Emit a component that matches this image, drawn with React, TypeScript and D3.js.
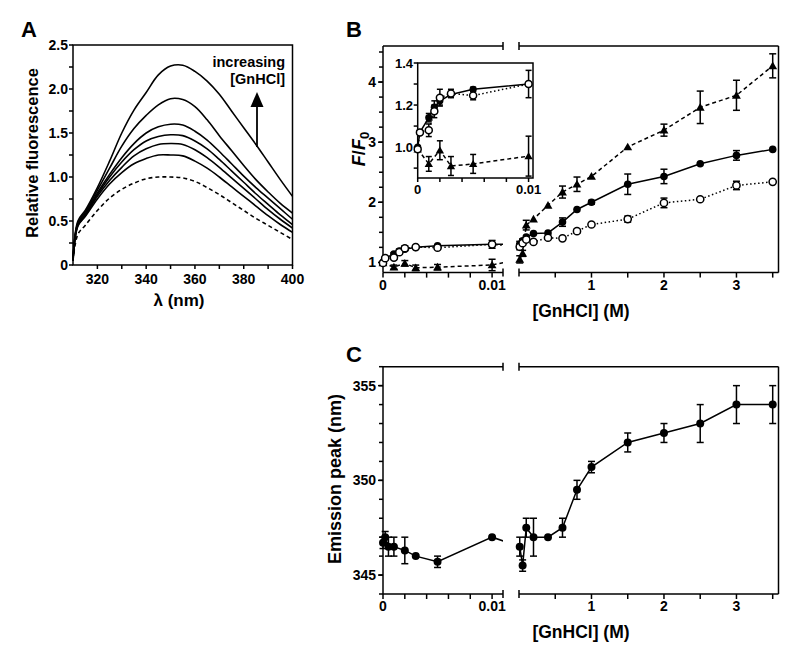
import React from 'react';
import * as d3 from 'd3';

// ---------- Panel A: emission spectra ----------
const wavelengths = [310, 312, 315, 320, 325, 330, 335, 340, 345, 350, 355, 360, 365, 370, 375, 380, 385, 390, 395, 400];
const spectrumNative = [0.05, 0.35, 0.45, 0.62, 0.76, 0.86, 0.93, 0.98, 1.0, 1.0, 0.99, 0.95, 0.88, 0.8, 0.71, 0.62, 0.53, 0.45, 0.37, 0.29];
const spectrum1 = [0.05, 0.44, 0.55, 0.75, 0.92, 1.05, 1.15, 1.21, 1.25, 1.25, 1.24, 1.18, 1.1, 1.0, 0.89, 0.78, 0.67, 0.56, 0.46, 0.37];
const spectrum2 = [0.05, 0.45, 0.56, 0.78, 0.96, 1.11, 1.24, 1.32, 1.37, 1.38, 1.37, 1.31, 1.22, 1.11, 0.99, 0.87, 0.75, 0.63, 0.52, 0.42];
const spectrum3 = [0.05, 0.46, 0.57, 0.8, 1.0, 1.17, 1.31, 1.41, 1.46, 1.48, 1.47, 1.41, 1.32, 1.2, 1.07, 0.94, 0.81, 0.69, 0.57, 0.46];
const spectrum4 = [0.05, 0.47, 0.58, 0.82, 1.03, 1.22, 1.38, 1.5, 1.57, 1.6, 1.59, 1.52, 1.42, 1.29, 1.15, 1.01, 0.88, 0.76, 0.64, 0.52];
const spectrum5 = [0.05, 0.48, 0.6, 0.85, 1.1, 1.35, 1.55, 1.7, 1.82, 1.89, 1.88, 1.8, 1.65, 1.47, 1.3, 1.13, 0.97, 0.83, 0.7, 0.59];
const spectrum6 = [0.05, 0.5, 0.62, 0.88, 1.18, 1.5, 1.76, 1.96, 2.16, 2.26, 2.27, 2.2, 2.09, 1.94, 1.75, 1.56, 1.37, 1.17, 0.97, 0.78];
const spectraSolid = [spectrum1, spectrum2, spectrum3, spectrum4, spectrum5, spectrum6];
const aYTicks = [0, 0.5, 1.0, 1.5, 2.0, 2.5];
const aXTicks = [320, 340, 360, 380, 400];

// ---------- Panel B: F/F0 ----------
const leftConc = [0, 0.0002, 0.001, 0.0015, 0.002, 0.003, 0.005, 0.01];
const filledLeft = [1.0, 1.07, 1.14, 1.19, 1.22, 1.25, 1.275, 1.3];
const filledLeftErr = [0, 0, 0.02, 0.03, 0.02, 0, 0.01, 0];
const openLeft = [0.99, 1.07, 1.08, 1.17, 1.235, 1.255, 1.245, 1.3];
const openLeftErr = [0, 0, 0.03, 0.03, 0.04, 0.02, 0.02, 0.065];
const triLeftConc = [0, 0.001, 0.002, 0.003, 0.005, 0.01];
const triLeft = [0.99, 0.92, 0.985, 0.91, 0.92, 0.957];
const triLeftErr = [0, 0.035, 0.045, 0.045, 0.045, 0.095];

const rightConc = [0.01, 0.05, 0.1, 0.2, 0.4, 0.6, 0.8, 1.0, 1.5, 2.0, 2.5, 3.0, 3.5];
const filledRight = [1.3, 1.36, 1.42, 1.48, 1.49, 1.67, 1.88, 2.0, 2.3, 2.43, 2.64, 2.78, 2.88];
const filledRightErr = [0.05, 0.03, 0, 0, 0, 0.07, 0, 0.03, 0.17, 0.12, 0, 0.08, 0];
const openRight = [1.26, 1.32, 1.38, 1.34, 1.41, 1.4, 1.52, 1.63, 1.72, 1.99, 2.05, 2.28, 2.34];
const openRightErr = [0.05, 0.03, 0, 0, 0, 0, 0.03, 0, 0.05, 0.08, 0, 0.07, 0];
const triRight = [1.05, 1.15, 1.62, 1.72, 1.95, 2.17, 2.3, 2.43, 2.92, 3.2, 3.58, 3.78, 4.27];
const triRightErr = [0.06, 0.05, 0.08, 0, 0, 0.1, 0.12, 0, 0, 0.1, 0.27, 0.25, 0.2];

const bYTicks = [1, 2, 3, 4];
const insetYTicks = [1.0, 1.2, 1.4];

// ---------- Panel C: emission peak ----------
const peakLeftConc = [0, 0.0002, 0.0005, 0.001, 0.002, 0.003, 0.005, 0.01];
const peakLeft = [346.7, 347.0, 346.5, 346.5, 346.3, 346.0, 345.7, 347.0];
const peakLeftErr = [0.3, 0.3, 0.5, 0.5, 0.7, 0, 0.3, 0];
const peakRight = [346.5, 345.5, 347.5, 347.0, 347.0, 347.5, 349.5, 350.7, 352.0, 352.5, 353.0, 354.0, 354.0];
const peakRightErr = [0.5, 0.3, 0.5, 1.0, 0, 0.5, 0.5, 0.3, 0.5, 0.5, 1.0, 1.0, 1.0];
const cYTicks = [345, 350, 355];

const leftXTickLabels = [0, 0.01];
const rightXTickLabels = [1, 2, 3];

const FONT = '"Liberation Sans", Arial, Helvetica, sans-serif';
const SW = 1.5;

type Pt = { x: number; y: number; e: number };

function ErrorBars({ pts, yScale, cap = 3.5 }: { pts: Pt[]; yScale: (v: number) => number; cap?: number }) {
  return (
    <g stroke="#000" strokeWidth={SW} fill="none">
      {pts.filter(p => p.e > 0).map((p, i) => {
        const y1 = yScale(p.y - p.e);
        const y2 = yScale(p.y + p.e);
        return (
          <g key={i}>
            <line x1={p.x} x2={p.x} y1={y1} y2={y2} />
            <line x1={p.x - cap} x2={p.x + cap} y1={y1} y2={y1} />
            <line x1={p.x - cap} x2={p.x + cap} y1={y2} y2={y2} />
          </g>
        );
      })}
    </g>
  );
}

const triPath = d3.symbol().type(d3.symbolTriangle).size(34)() as string;
const triPathSmall = d3.symbol().type(d3.symbolTriangle).size(30)() as string;

function Markers({ pts, yScale, kind, r = 3.8 }: { pts: Pt[]; yScale: (v: number) => number; kind: 'filled' | 'open' | 'tri'; r?: number }) {
  return (
    <g>
      {pts.map((p, i) => {
        const cy = yScale(p.y);
        if (kind === 'tri') return <path key={i} d={r < 3.7 ? triPathSmall : triPath} transform={`translate(${p.x},${cy + 0.8})`} fill="#000" />;
        if (kind === 'open') return <circle key={i} cx={p.x} cy={cy} r={r} fill="#fff" stroke="#000" strokeWidth={SW} />;
        return <circle key={i} cx={p.x} cy={cy} r={r} fill="#000" />;
      })}
    </g>
  );
}

function SeriesLine({ pts, yScale, dash, clip }: { pts: Pt[]; yScale: (v: number) => number; dash?: string; clip?: string }) {
  const gen = d3.line<Pt>().x(p => p.x).y(p => yScale(p.y));
  return <path d={gen(pts) as string} fill="none" stroke="#000" strokeWidth={SW} strokeDasharray={dash} clipPath={clip ? `url(#${clip})` : undefined} />;
}

export default function App() {
  // Panel A scales
  const xA = d3.scaleLinear().domain([310, 400]).range([73, 292.5]);
  const yA = d3.scaleLinear().domain([0, 2.5]).range([265, 45]);
  const specLine = d3.line<number>().x((_, i) => xA(wavelengths[i])).y(v => yA(v)).curve(d3.curveCatmullRom);

  // Broken x scales (B and C share)
  const xL = d3.scaleLinear().domain([0, 0.011]).range([383, 503]);
  const xR = d3.scaleLinear().domain([0, 3.58]).range([519, 778.5]);
  const yB = d3.scaleLinear().domain([0.83, 4.6]).range([272.6, 46]);
  const yC = d3.scaleLinear().domain([344, 356]).range([594, 366.7]);
  const xI = d3.scaleLinear().domain([0, 0.0104]).range([417.7, 533]);
  const yI = d3.scaleLinear().domain([0.853, 1.4]).range([178, 63]);

  const mk = (concL: number[], valL: number[], errL: number[], concR: number[], valR: number[], errR: number[]) => [
    ...concL.map((c, i) => ({ x: xL(c), y: valL[i], e: errL[i] })),
    ...concR.map((c, i) => ({ x: xR(c), y: valR[i], e: errR[i] })),
  ];
  const bFilled = mk(leftConc, filledLeft, filledLeftErr, rightConc, filledRight, filledRightErr);
  const bOpen = mk(leftConc, openLeft, openLeftErr, rightConc, openRight, openRightErr);
  const bTri = mk(triLeftConc, triLeft, triLeftErr, rightConc, triRight, triRightErr);
  const cPeak = mk(peakLeftConc, peakLeft, peakLeftErr, rightConc, peakRight, peakRightErr);

  const iFilled = leftConc.map((c, i) => ({ x: xI(c), y: filledLeft[i], e: filledLeftErr[i] }));
  const iOpen = leftConc.map((c, i) => ({ x: xI(c), y: openLeft[i], e: openLeftErr[i] }));
  const iTri = triLeftConc.map((c, i) => ({ x: xI(c), y: triLeft[i], e: triLeftErr[i] }));

  const leftMinor = d3.range(0, 0.0101, 0.002);
  const rightMinor = d3.range(0.5, 3.51, 0.5);

  const brokenFrame = (yTop: number, yBot: number, yScale: d3.ScaleLinear<number, number>, yMinor: number[], yMajor: number[], fmt: (v: number) => string, labelBase: number) => (
    <g>
      <g stroke="#000" strokeWidth={SW} fill="none">
        <line x1={383} x2={383} y1={yTop} y2={yBot} />
        <line x1={383} x2={503} y1={yTop} y2={yTop} />
        <line x1={519} x2={778.5} y1={yTop} y2={yTop} />
        <line x1={383} x2={503} y1={yBot} y2={yBot} />
        <line x1={519} x2={778.5} y1={yBot} y2={yBot} />
        <line x1={778.5} x2={778.5} y1={yTop} y2={yBot} />
        {[503, 519].map(x => (
          <g key={x}>
            <line x1={x} x2={x} y1={yTop - 4} y2={yTop + 4} />
            <line x1={x} x2={x} y1={yBot - 4} y2={yBot + 4} />
          </g>
        ))}
        {yMinor.map((v, i) => <line key={'ym' + i} x1={379} x2={383} y1={yScale(v)} y2={yScale(v)} />)}
        {yMajor.map((v, i) => <line key={'yM' + i} x1={378} x2={383} y1={yScale(v)} y2={yScale(v)} />)}
        {leftMinor.map((v, i) => <line key={'lm' + i} x1={xL(v)} x2={xL(v)} y1={yBot} y2={yBot + 5} />)}
        {rightMinor.map((v, i) => <line key={'rm' + i} x1={xR(v)} x2={xR(v)} y1={yBot} y2={yBot + 5} />)}
      </g>
      <g fontFamily={FONT} fontWeight="bold" fontSize={14} fill="#000">
        {yMajor.map((v, i) => (
          <text key={'yl' + i} x={376} y={yScale(v) + 5} textAnchor="end">{fmt(v)}</text>
        ))}
        {leftXTickLabels.map((v, i) => (
          <text key={'xl' + i} x={xL(v)} y={labelBase} textAnchor="middle">{v === 0 ? '0' : String(v)}</text>
        ))}
        {rightXTickLabels.map((v, i) => (
          <text key={'xr' + i} x={xR(v)} y={labelBase} textAnchor="middle">{v}</text>
        ))}
      </g>
    </g>
  );

  return (
    <svg width={800} height={655} style={{ position: 'absolute', left: 0, top: 0, background: '#fff' }} xmlns="http://www.w3.org/2000/svg">
      <defs>
        <clipPath id="segB">
          <rect x={383} y={40} width={120} height={240} />
          <rect x={519} y={40} width={260} height={240} />
        </clipPath>
        <clipPath id="segC">
          <rect x={383} y={360} width={120} height={240} />
          <rect x={519} y={360} width={260} height={240} />
        </clipPath>
      </defs>
      <rect x={0} y={0} width={800} height={655} fill="#fff" />

      {/* ---------------- Panel A ---------------- */}
      <text x={21} y={37} fontFamily={FONT} fontWeight="bold" fontSize={22}>A</text>
      <g stroke="#000" strokeWidth={SW} fill="none">
        <rect x={73} y={45} width={219.5} height={220} />
        {d3.range(0, 2.51, 0.25).map((v, i) => <line key={i} x1={69} x2={73} y1={yA(v)} y2={yA(v)} />)}
        {d3.range(320, 401, 10).map((v, i) => <line key={i} x1={xA(v)} x2={xA(v)} y1={265} y2={269} />)}
      </g>
      <g fontFamily={FONT} fontWeight="bold" fontSize={14}>
        {aYTicks.map((v, i) => (
          <text key={i} x={68} y={yA(v) + 5} textAnchor="end">{v === 0 ? '0' : v.toFixed(1)}</text>
        ))}
        {aXTicks.map((v, i) => (
          <text key={i} x={xA(v)} y={284} textAnchor="middle">{v}</text>
        ))}
      </g>
      <text transform="translate(38,153) rotate(-90)" textAnchor="middle" fontFamily={FONT} fontWeight="bold" fontSize={16.5}>Relative fluorescence</text>
      <text x={179} y={306} textAnchor="middle" fontFamily={FONT} fontWeight="bold" fontSize={17}>λ (nm)</text>
      <g fill="none" stroke="#000" strokeWidth={1.6}>
        <path d={specLine(spectrumNative) as string} strokeDasharray="4,3" />
        {spectraSolid.map((s, i) => <path key={i} d={specLine(s) as string} />)}
      </g>
      <text x={285} y={67} textAnchor="end" fontFamily={FONT} fontWeight="bold" fontSize={14.5}>increasing</text>
      <text x={285} y={84} textAnchor="end" fontFamily={FONT} fontWeight="bold" fontSize={14.5}>[GnHCl]</text>
      <line x1={257} x2={257} y1={147} y2={104} stroke="#000" strokeWidth={1.8} />
      <path d="M257,92 L263.5,107 L250.5,107 Z" fill="#000" />

      {/* ---------------- Panel B ---------------- */}
      <text x={346} y={37} fontFamily={FONT} fontWeight="bold" fontSize={22}>B</text>
      {brokenFrame(46, 272.6, yB, d3.range(1, 4.51, 0.25), bYTicks, v => String(v), 290)}
      <text transform="translate(365,149) rotate(-90)" textAnchor="middle" fontFamily={FONT} fontWeight="bold" fontSize={18}>
        <tspan fontStyle="italic">F</tspan>/<tspan fontStyle="italic">F</tspan><tspan fontSize={13} dy={4}>0</tspan>
      </text>
      <text x={581} y={317} textAnchor="middle" fontFamily={FONT} fontWeight="bold" fontSize={17.5}>[GnHCl] (M)</text>

      <SeriesLine pts={bTri} yScale={yB} dash="4,3" clip="segB" />
      <SeriesLine pts={bFilled} yScale={yB} clip="segB" />
      <SeriesLine pts={bOpen} yScale={yB} dash="1.5,2.5" clip="segB" />
      <ErrorBars pts={bTri} yScale={yB} />
      <ErrorBars pts={bFilled} yScale={yB} />
      <ErrorBars pts={bOpen} yScale={yB} />
      <Markers pts={bTri} yScale={yB} kind="tri" />
      <Markers pts={bFilled} yScale={yB} kind="filled" />
      <Markers pts={bOpen} yScale={yB} kind="open" r={3.6} />

      {/* Inset */}
      <g>
        <rect x={417.7} y={63} width={115.3} height={115} fill="#fff" stroke="#000" strokeWidth={SW} />
        <g stroke="#000" strokeWidth={SW}>
          {[0.9, 1.0, 1.1, 1.2, 1.3, 1.4].map((v, i) => <line key={i} x1={413.7} x2={417.7} y1={yI(v)} y2={yI(v)} />)}
          {d3.range(0, 0.0101, 0.002).map((v, i) => <line key={i} x1={xI(v)} x2={xI(v)} y1={178} y2={182} />)}
        </g>
        <g fontFamily={FONT} fontWeight="bold" fontSize={13}>
          {insetYTicks.map((v, i) => (
            <text key={i} x={413} y={yI(v) + 4.6} textAnchor="end">{v.toFixed(1)}</text>
          ))}
          {leftXTickLabels.map((v, i) => (
            <text key={i} x={xI(v)} y={194} textAnchor="middle">{v === 0 ? '0' : String(v)}</text>
          ))}
        </g>
        <SeriesLine pts={iTri} yScale={yI} dash="4,3" />
        <SeriesLine pts={iFilled} yScale={yI} />
        <SeriesLine pts={iOpen} yScale={yI} dash="1.5,2.5" />
        <ErrorBars pts={iTri} yScale={yI} cap={3} />
        <ErrorBars pts={iFilled} yScale={yI} cap={3} />
        <ErrorBars pts={iOpen} yScale={yI} cap={3} />
        <Markers pts={iTri} yScale={yI} kind="tri" r={3.5} />
        <Markers pts={iFilled} yScale={yI} kind="filled" r={3.6} />
        <Markers pts={iOpen} yScale={yI} kind="open" r={3.5} />
      </g>

      {/* ---------------- Panel C ---------------- */}
      <text x={346} y={362} fontFamily={FONT} fontWeight="bold" fontSize={22}>C</text>
      {brokenFrame(366.7, 594, yC, d3.range(344, 356.1, 1), cYTicks, v => String(v), 611)}
      <text transform="translate(341,479) rotate(-90)" textAnchor="middle" fontFamily={FONT} fontWeight="bold" fontSize={18}>Emission peak (nm)</text>
      <text x={581} y={638} textAnchor="middle" fontFamily={FONT} fontWeight="bold" fontSize={17.5}>[GnHCl] (M)</text>
      <SeriesLine pts={cPeak} yScale={yC} clip="segC" />
      <ErrorBars pts={cPeak} yScale={yC} />
      <Markers pts={cPeak} yScale={yC} kind="filled" r={4} />
    </svg>
  );
}
